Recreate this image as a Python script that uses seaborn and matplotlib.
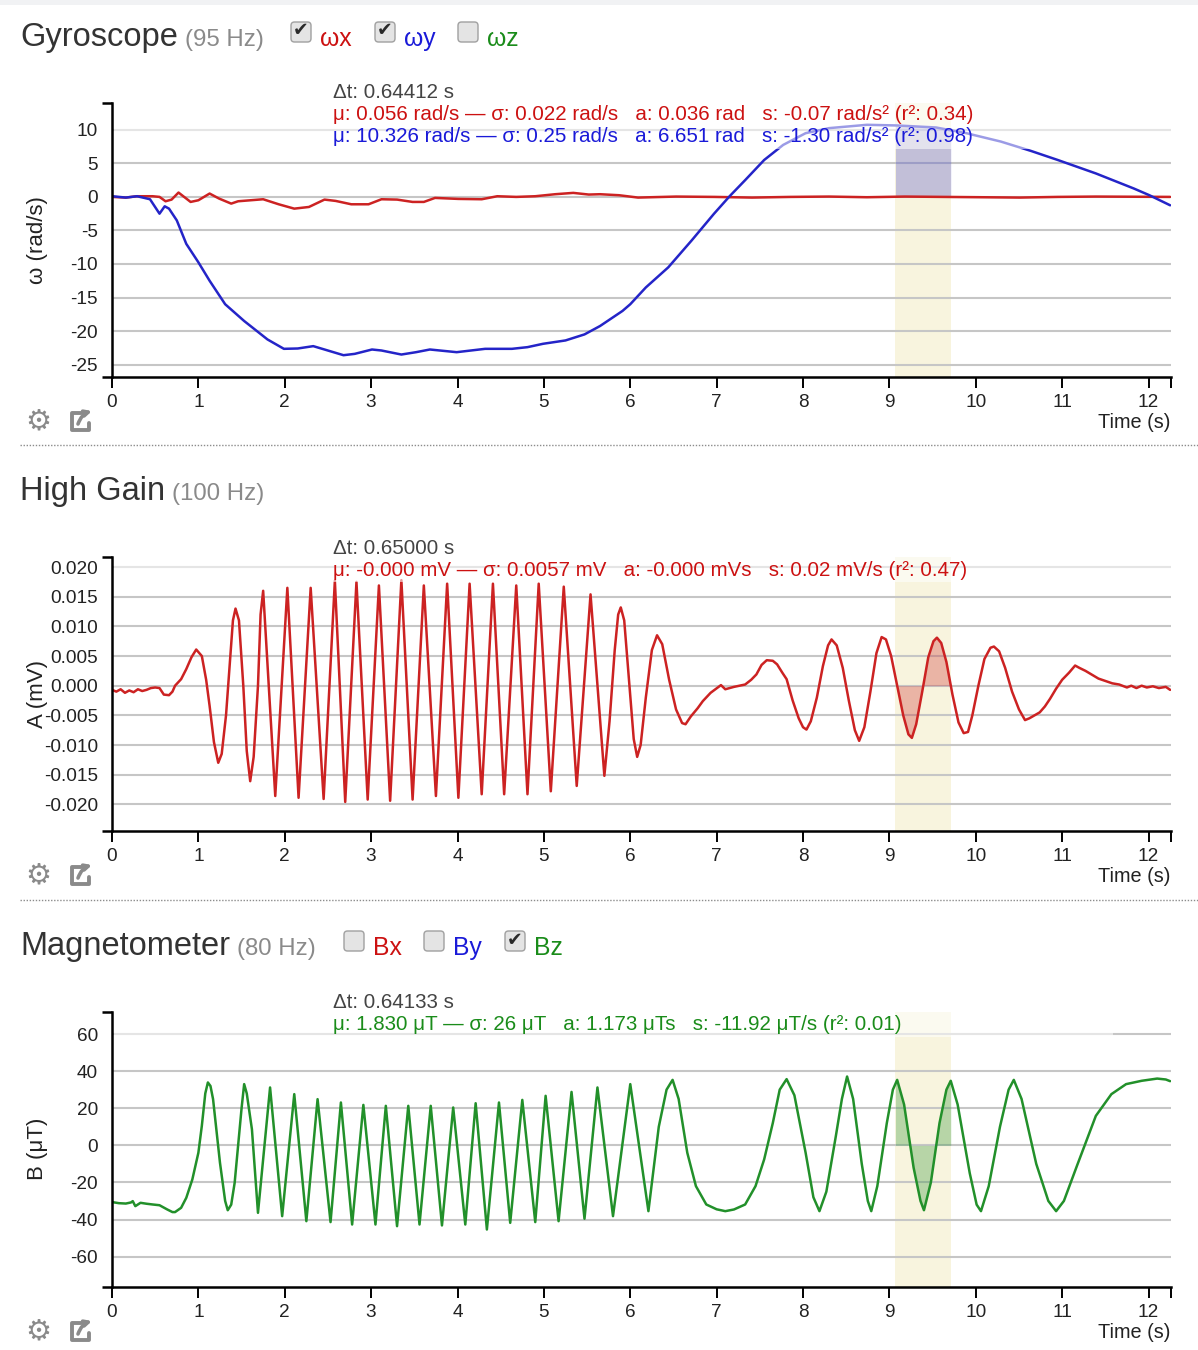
import numpy as np
import matplotlib
matplotlib.use("Agg")
import matplotlib.pyplot as plt
from matplotlib.patches import Rectangle, FancyBboxPatch, FancyArrowPatch
import seaborn as sns

# ---- data (time in s, value) ----
wy_points = [(0, 0.1), (0.16, -0.1), (0.29, 0.1), (0.44, -0.35), (0.55, -2.5), (0.61, -1.4),
             (0.66, -1.75), (0.75, -3.5), (0.86, -7.0), (1.00, -9.75), (1.13, -12.5), (1.31, -16.0),
             (1.53, -18.5), (1.80, -21.25), (1.99, -22.65), (2.15, -22.6), (2.33, -22.25),
             (2.46, -22.75), (2.68, -23.6), (2.81, -23.4), (3.01, -22.75), (3.12, -22.9),
             (3.35, -23.5), (3.52, -23.15), (3.68, -22.75), (3.99, -23.15), (4.32, -22.65),
             (4.63, -22.65), (4.81, -22.4), (4.99, -21.9), (5.25, -21.4), (5.47, -20.5),
             (5.65, -19.25), (5.91, -17.0), (6.00, -16.0), (6.18, -13.5), (6.44, -10.5),
             (6.71, -6.5), (6.97, -2.5), (7.15, 0.1), (7.33, 2.5), (7.55, 5.5), (7.77, 7.75),
             (8.03, 9.5), (8.30, 10.25), (8.74, 10.75), (9.09, 10.65), (9.54, 10.35), (9.89, 9.5),
             (10.29, 8.25), (10.64, 6.85), (10.95, 5.5), (11.39, 3.5), (11.83, 1.25),
             (12.01, 0.25), (12.25, -1.25)]

wx_points = [(0, 0), (0.16, -0.1), (0.29, 0.1), (0.47, 0.1), (0.55, 0), (0.62, -0.65), (0.69, -0.4),
             (0.77, 0.65), (0.91, -0.75), (1.00, -0.5), (1.13, 0.5), (1.24, -0.25), (1.38, -1.0),
             (1.46, -0.65), (1.75, -0.35), (1.93, -1.1), (2.11, -1.75), (2.28, -1.5), (2.46, -0.4),
             (2.59, -0.6), (2.77, -1.1), (2.97, -1.1), (3.12, -0.35), (3.30, -0.4), (3.48, -0.75),
             (3.61, -0.75), (3.74, -0.15), (4.01, -0.3), (4.28, -0.35), (4.46, 0.1), (4.68, 0),
             (4.90, 0.1), (5.13, 0.4), (5.34, 0.6), (5.52, 0.35), (5.65, 0.4), (5.87, 0.25),
             (6.09, -0.1), (6.53, 0.05), (6.97, 0), (7.41, -0.1), (7.86, 0), (8.30, 0.05),
             (8.74, -0.05), (9.18, 0.05), (9.62, 0), (10.07, -0.05), (10.51, -0.1), (10.95, 0),
             (11.39, 0.05), (12.25, 0)]

hg_points = [(0.00, -0.0007), (0.05, -0.0010), (0.10, -0.0006), (0.15, -0.0012), (0.20, -0.0008),
             (0.25, -0.0011), (0.30, -0.0006), (0.35, -0.0009), (0.40, -0.0007), (0.45, -0.0004),
             (0.50, -0.0003), (0.55, -0.0004), (0.60, -0.0015), (0.66, -0.0016), (0.70, -0.0010),
             (0.73, 0.0000), (0.80, 0.0011), (0.86, 0.0028), (0.92, 0.0048), (0.975, 0.0061),
             (1.04, 0.0050), (1.09, 0.0010), (1.13, -0.0034), (1.18, -0.0095), (1.23, -0.0130),
             (1.27, -0.0115), (1.32, -0.0050), (1.36, 0.0030), (1.40, 0.0110), (1.43, 0.0130),
             (1.47, 0.0110), (1.52, 0.0000), (1.56, -0.0110), (1.60, -0.0161), (1.64, -0.0120),
             (1.69, 0.0000), (1.72, 0.0120), (1.75, 0.0160), (1.89, -0.0186), (2.03, 0.0165),
             (2.16, -0.0189), (2.30, 0.0165), (2.45, -0.0191), (2.58, 0.0177), (2.70, -0.0196),
             (2.83, 0.0175), (2.96, -0.0192), (3.09, 0.0169), (3.22, -0.0194), (3.35, 0.0178),
             (3.48, -0.0192), (3.61, 0.0169), (3.75, -0.0186), (3.88, 0.0172), (4.01, -0.0189),
             (4.14, 0.0172), (4.28, -0.0183), (4.41, 0.0172), (4.54, -0.0183), (4.68, 0.0169),
             (4.81, -0.0183), (4.94, 0.0172), (5.08, -0.0178), (5.23, 0.0167), (5.38, -0.0169),
             (5.54, 0.0154), (5.70, -0.0152), (5.76, -0.0060), (5.82, 0.0060), (5.86, 0.0120),
             (5.89, 0.0132), (5.93, 0.0110), (5.99, 0.0000), (6.04, -0.0090), (6.08, -0.0120),
             (6.12, -0.0100), (6.18, -0.0020), (6.25, 0.0060), (6.31, 0.0085), (6.37, 0.0070),
             (6.45, 0.0010), (6.53, -0.0040), (6.60, -0.0063), (6.64, -0.0065), (6.70, -0.0052),
             (6.78, -0.0038), (6.84, -0.0026), (6.93, -0.0012), (7.05, 0.0001), (7.10, -0.0006),
             (7.20, -0.0002), (7.33, 0.0002), (7.40, 0.0010), (7.46, 0.0019), (7.52, 0.0035),
             (7.58, 0.0043), (7.65, 0.0042), (7.70, 0.0036), (7.76, 0.0022), (7.81, 0.0011),
             (7.88, -0.0025), (7.95, -0.0055), (8.00, -0.0070), (8.04, -0.0074), (8.09, -0.0060),
             (8.16, -0.0020), (8.23, 0.0033), (8.29, 0.0068), (8.33, 0.0078), (8.39, 0.0068),
             (8.46, 0.0030), (8.53, -0.0025), (8.60, -0.0075), (8.65, -0.0093), (8.71, -0.0070),
             (8.78, -0.0010), (8.85, 0.0055), (8.91, 0.0082), (8.96, 0.0078), (9.02, 0.0050),
             (9.09, 0.0000), (9.16, -0.0050), (9.22, -0.0082), (9.26, -0.0088), (9.31, -0.0065),
             (9.38, -0.0010), (9.45, 0.0048), (9.51, 0.0075), (9.55, 0.0081), (9.60, 0.0072),
             (9.66, 0.0040), (9.73, -0.0015), (9.80, -0.0062), (9.86, -0.0080), (9.91, -0.0078),
             (9.96, -0.0050), (10.03, 0.0000), (10.10, 0.0045), (10.17, 0.0064), (10.21, 0.0066),
             (10.27, 0.0058), (10.34, 0.0030), (10.42, -0.0010), (10.50, -0.0040), (10.57, -0.0058),
             (10.62, -0.0055), (10.68, -0.0050), (10.74, -0.0045), (10.80, -0.0035),
             (10.86, -0.0022), (10.93, -0.0005), (11.00, 0.0010), (11.08, 0.0022), (11.15, 0.0034),
             (11.20, 0.0030), (11.27, 0.0025), (11.35, 0.0018), (11.42, 0.0012), (11.50, 0.0008),
             (11.58, 0.0004), (11.66, 0.0002), (11.75, -0.0003), (11.80, 0.0000), (11.86, -0.0004),
             (11.92, 0.0000), (11.98, -0.0003), (12.05, -0.0001), (12.12, -0.0004),
             (12.20, -0.0002), (12.25, -0.0007)]

bz_points = [(0, -30.6), (0.08, -31.2), (0.16, -31.4), (0.22, -30.8), (0.24, -30.1), (0.27, -32.8),
             (0.33, -31.0), (0.40, -31.5), (0.47, -31.9), (0.55, -32.3), (0.64, -34.6),
             (0.70, -36.0), (0.73, -36.0), (0.80, -33.7), (0.86, -28.3), (0.93, -18.4),
             (1.00, -4.0), (1.04, 10.5), (1.08, 28), (1.11, 33.9), (1.14, 32), (1.17, 24.9),
             (1.25, -9.4), (1.31, -30), (1.34, -35.0), (1.38, -32), (1.42, -20.2), (1.50, 20),
             (1.53, 33.0), (1.56, 28), (1.62, 8.6), (1.69, -36.4), (1.83, 31.2), (1.97, -38.2),
             (2.11, 27.6), (2.25, -40.9), (2.38, 24.9), (2.53, -41.4), (2.65, 23.1), (2.78, -42.7),
             (2.91, 21.8), (3.05, -42.7), (3.17, 21.3), (3.30, -43.6), (3.43, 21.3), (3.56, -42.7),
             (3.69, 21.3), (3.82, -43.2), (3.95, 20.4), (4.09, -42.7), (4.21, 22.7), (4.34, -45.4),
             (4.48, 23.1), (4.61, -41.8), (4.75, 24.5), (4.90, -41.4), (5.02, 26.7), (5.17, -40.9),
             (5.32, 28.8), (5.47, -39.6), (5.62, 31.2), (5.80, -38.2), (6.00, 33.0), (6.21, -35.5),
             (6.33, 10), (6.42, 30), (6.49, 35.3), (6.56, 25), (6.66, -4), (6.76, -22),
             (6.88, -31.9), (7.00, -34.5), (7.10, -35.5), (7.20, -34.6), (7.33, -31.9),
             (7.45, -22), (7.55, -7.6), (7.65, 12), (7.73, 30), (7.81, 35.7), (7.90, 27),
             (8.03, -4), (8.12, -28), (8.19, -35.5), (8.27, -25), (8.38, 5), (8.45, 25),
             (8.51, 37.1), (8.58, 25), (8.68, -10), (8.75, -30), (8.79, -35.5), (8.86, -22),
             (8.97, 12), (9.04, 30), (9.09, 35.3), (9.17, 22), (9.28, -12), (9.36, -30),
             (9.40, -35), (9.48, -20), (9.58, 12), (9.66, 30), (9.71, 34.8), (9.79, 22),
             (9.93, -15), (10.01, -32), (10.06, -35.5), (10.15, -22), (10.28, 10), (10.38, 30),
             (10.44, 35.3), (10.53, 25), (10.70, -10), (10.84, -30), (10.93, -35.5), (11.02, -30),
             (11.17, -11.2), (11.39, 15.9), (11.57, 27.6), (11.74, 33), (11.92, 34.8), (12.10, 36),
             (12.20, 35.5), (12.25, 34.6)]

sel_start, sel_end = 9.07, 9.71
x_ticks = list(range(13))
gyro_yticks = [10, 5, 0, -5, -10, -15, -20, -25]
hg_yticks = [0.020, 0.015, 0.010, 0.005, 0.000, -0.005, -0.010, -0.015, -0.020]
mag_yticks = [60, 40, 20, 0, -20, -40, -60]

gyro_stats = ["Δt: 0.64412 s",
              "μ: 0.056 rad/s — σ: 0.022 rad/s   a: 0.036 rad   s: -0.07 rad/s² (r²: 0.34)",
              "μ: 10.326 rad/s — σ: 0.25 rad/s   a: 6.651 rad   s: -1.30 rad/s² (r²: 0.98)"]
hg_stats = ["Δt: 0.65000 s",
            "μ: -0.000 mV — σ: 0.0057 mV   a: -0.000 mVs   s: 0.02 mV/s (r²: 0.47)"]
mag_stats = ["Δt: 0.64133 s",
             "μ: 1.830 μT — σ: 26 μT   a: 1.173 μTs   s: -11.92 μT/s (r²: 0.01)"]

RED, BLUE, GREEN = "#cc2222", "#2424c8", "#22902a"
W, H = 1198, 1350
TICK_FS = 13.7

sns.set_theme(style="white")
plt.rcParams['font.family'] = ['Liberation Sans', 'DejaVu Sans']
plt.rcParams['axes.unicode_minus'] = False

fig = plt.figure(figsize=(W / 100, H / 100), dpi=100)
fig.patch.set_facecolor("white")
XMAX = 12.26


def make_axes(top, bottom, ylim, yticks, ylabels):
    ax = fig.add_axes([112 / W, 1 - bottom / H, (1171 - 112) / W, (bottom - top) / H])
    ax.set_xlim(0, XMAX)
    ax.set_ylim(*ylim)
    ax.set_facecolor("white")
    for s in ["top", "right"]:
        ax.spines[s].set_visible(False)
    for s in ["left", "bottom"]:
        ax.spines[s].set_color("black")
        ax.spines[s].set_linewidth(1.8)
    ax.set_xticks(x_ticks)
    ax.set_xticklabels([str(v) for v in x_ticks])
    ax.set_xticks([XMAX], minor=True)
    ax.set_yticks(yticks)
    ax.set_yticklabels(ylabels)
    ax.set_yticks(list(ylim), minor=True)
    ax.tick_params(axis="x", which="both", bottom=True, direction="out", length=8, width=1.4,
                   color="black", labelsize=TICK_FS, labelcolor="#222", pad=4)
    ax.tick_params(axis="y", which="major", left=True, length=0, labelsize=TICK_FS,
                   labelcolor="#222", pad=10)
    ax.tick_params(axis="y", which="minor", left=True, length=7, width=1.8, color="black",
                   direction="out")
    ax.grid(axis="y", which="major", color="#c6c6c6", linewidth=1.5)
    ax.set_axisbelow(True)
    ax.axvspan(sel_start, sel_end, color="#f8f4de", zorder=0.2, lw=0)
    return ax


def draw_series(ax, points, color, fill_alpha):
    t = np.array([p[0] for p in points])
    v = np.array([p[1] for p in points])
    tt = np.linspace(sel_start, sel_end, 300)
    ax.fill_between(tt, 0, np.interp(tt, t, v), color=color, alpha=fill_alpha, lw=0, zorder=1)
    sns.lineplot(x=t, y=v, ax=ax, color=color, lw=1.8, estimator=None, sort=False,
                 legend=False, zorder=2)
    ax.set_xlabel("")
    ax.set_ylabel("")


ax1 = make_axes(103, 377, (-26.85, 14.0), gyro_yticks, [str(v) for v in gyro_yticks])
draw_series(ax1, wx_points, RED, 0.3)
draw_series(ax1, wy_points, BLUE, 0.25)

ax2 = make_axes(557, 831, (-0.0245, 0.0217), hg_yticks, [f"{v:.3f}" for v in hg_yticks])
draw_series(ax2, hg_points, RED, 0.3)

ax3 = make_axes(1012, 1287, (-76.4, 71.9), mag_yticks, [str(v) for v in mag_yticks])
draw_series(ax3, bz_points, GREEN, 0.3)

# ---- overlay in pixel coordinates ----
ov = fig.add_axes([0, 0, 1, 1], zorder=10)
ov.set_xlim(0, W)
ov.set_ylim(H, 0)
ov.axis("off")

ov.add_patch(Rectangle((0, 0), W, 5, color="#f1f2f4", lw=0))
for y in (445, 900):
    ov.plot([20, W], [y, y], color="#8c8c8c", lw=1.0, ls=(0, (1, 1.2)))


def header(y_base, title, hz, hz_x, boxes):
    ov.text(20, y_base, title, fontsize=23.5, color="#333333", va="baseline")
    ov.text(hz_x, y_base, hz, fontsize=17.3, color="#8a8a8a", va="baseline")
    for cx, checked, label, color in boxes:
        ov.add_patch(FancyBboxPatch((cx - 10, y_base - 24), 20, 20,
                                    boxstyle="round,pad=0,rounding_size=3.5",
                                    fc="#e4e4e4", ec="#a0a0a0", lw=1.0))
        if checked:
            ov.text(cx, y_base - 15, "✔", fontsize=13.5, color="#2a2a2a", ha="center",
                    va="center", family=["DejaVu Sans"])
        ov.text(cx + 19, y_base, label, fontsize=17.8, color=color, va="baseline")


def footer(y_axis, ylabel, y_center):
    ov.text(37, y_center, ylabel, fontsize=16, rotation=90, ha="center", va="center",
            color="#222")
    ov.text(1171, y_axis + 45, "Time (s)", fontsize=14.3, ha="right", va="center",
            color="#222")
    gy = y_axis + 44
    ov.text(38, gy, "⚙", fontsize=21, color="#8a8a8a", ha="center", va="center",
            family=["DejaVu Sans"])
    ov.plot([81, 72, 72, 89, 89], [gy - 8, gy - 8, gy + 9, gy + 9, gy + 2], color="#8a8a8a",
            lw=2.8, solid_joinstyle="round", solid_capstyle="round")
    ov.add_patch(FancyArrowPatch((78, gy + 3), (92, gy - 10), arrowstyle="-|>",
                                 mutation_scale=9, lw=2.6, color="#8a8a8a",
                                 connectionstyle="arc3,rad=-0.25", shrinkA=0, shrinkB=0))


def stats(lines, colors, y0, box_right):
    bottom = y0 + 22 * (len(lines) - 1) + 12
    ov.add_patch(Rectangle((114, y0 - 12), box_right - 114, bottom - (y0 - 12),
                           fc="white", alpha=0.55, lw=0))
    for i, (txt, c) in enumerate(zip(lines, colors)):
        ov.text(333, y0 + 22 * i, txt, fontsize=14.8, color=c, va="center")


header(46, "Gyroscope", "(95 Hz)", 185,
       [(301, True, "ωx", "#cc1111"), (385, True, "ωy", "#1a1ad8"), (468, False, "ωz", "#1a8c1a")])
header(500, "High Gain", "(100 Hz)", 172, [])
header(955, "Magnetometer", "(80 Hz)", 237,
       [(354, False, "Bx", "#cc1111"), (434, False, "By", "#1a1ad8"), (515, True, "Bz", "#1a8c1a")])

stats(gyro_stats, ["#444444", "#cc1111", "#1a1ad8"], 93, 1171)
stats(hg_stats, ["#444444", "#cc1111"], 548, 1171)
stats(mag_stats, ["#444444", "#1a8c1a"], 1003, 1113)

footer(377, "ω (rad/s)", 240)
footer(831, "A (mV)", 694)
footer(1287, "B (μT)", 1149)

fig.savefig("out.png", dpi=100)
